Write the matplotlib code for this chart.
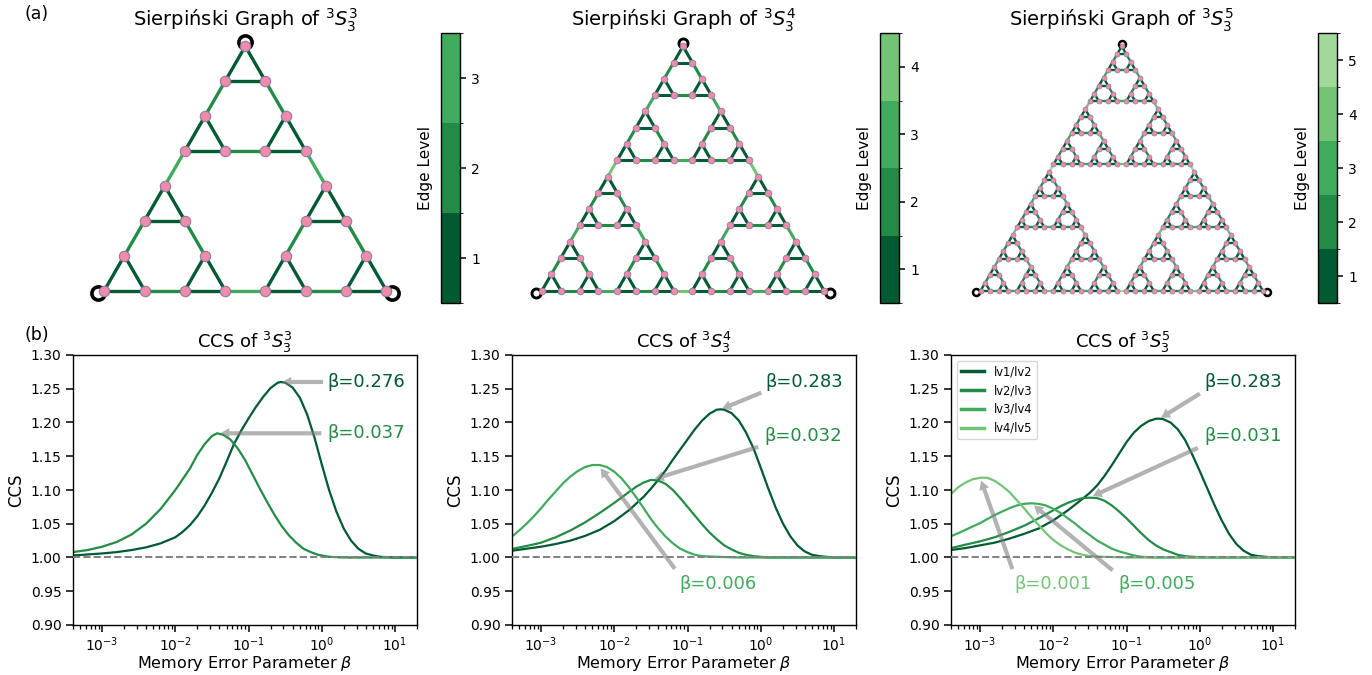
import numpy as np
import matplotlib
matplotlib.use("Agg")
import matplotlib.pyplot as plt
from matplotlib.collections import LineCollection
from matplotlib.colors import ListedColormap, BoundaryNorm
from matplotlib.cm import ScalarMappable
from matplotlib.transforms import offset_copy
from itertools import product

W, H = 1372, 675

level_colors = ["#005a32", "#238b45", "#41ab5d", "#74c476", "#a1d99b"]
node_face = "#f08ca8"
node_edge = "#8a7aa8"

graph_orders = [3, 4, 5]
curve_names = ["lv1/lv2", "lv2/lv3", "lv3/lv4", "lv4/lv5"]

# CCS curves: log10(beta) and CCS value
s3_lv12_logb = [-3.4, -3.2, -3.0, -2.8, -2.6, -2.4, -2.2, -2.0, -1.9, -1.8, -1.7, -1.6, -1.5, -1.4, -1.3,
                -1.2, -1.1, -1.0, -0.9, -0.8, -0.7, -0.6, -0.56, -0.5, -0.4, -0.3, -0.2, -0.1, 0.0, 0.1,
                0.2, 0.3, 0.4, 0.5, 0.6, 0.7, 0.8, 1.0, 1.3]
s3_lv12_ccs = [1.003, 1.0045, 1.006, 1.008, 1.011, 1.015, 1.021, 1.030, 1.038, 1.048, 1.061, 1.077, 1.096,
               1.117, 1.142, 1.168, 1.188, 1.206, 1.223, 1.238, 1.251, 1.259, 1.260, 1.259, 1.252, 1.237,
               1.212, 1.178, 1.138, 1.100, 1.068, 1.043, 1.025, 1.013, 1.006, 1.003, 1.001, 1.000, 1.000]
s3_lv23_logb = [-3.4, -3.2, -3.0, -2.8, -2.6, -2.4, -2.2, -2.0, -1.9, -1.8, -1.7, -1.6, -1.5, -1.43, -1.35,
                -1.25, -1.15, -1.05, -0.95, -0.85, -0.75, -0.65, -0.55, -0.45, -0.35, -0.25, -0.15, -0.05,
                0.1, 0.3, 1.3]
s3_lv23_ccs = [1.008, 1.011, 1.016, 1.023, 1.034, 1.050, 1.072, 1.100, 1.116, 1.132, 1.152, 1.168, 1.180,
               1.184, 1.182, 1.175, 1.162, 1.145, 1.124, 1.103, 1.083, 1.064, 1.047, 1.033, 1.022, 1.013,
               1.008, 1.004, 1.001, 1.000, 1.000]

s4_lv12_logb = [-3.4, -3.2, -3.0, -2.8, -2.6, -2.4, -2.2, -2.0, -1.8, -1.6, -1.5, -1.4, -1.3, -1.2, -1.1,
                -1.0, -0.9, -0.8, -0.7, -0.6, -0.55, -0.5, -0.4, -0.3, -0.2, -0.1, 0.0, 0.1, 0.2, 0.3,
                0.4, 0.5, 0.6, 0.7, 0.8, 1.0, 1.3]
s4_lv12_ccs = [1.010, 1.013, 1.016, 1.020, 1.025, 1.032, 1.041, 1.054, 1.070, 1.090, 1.102, 1.115, 1.129,
               1.145, 1.160, 1.175, 1.190, 1.203, 1.213, 1.219, 1.2195, 1.219, 1.214, 1.203, 1.185, 1.162,
               1.133, 1.103, 1.075, 1.051, 1.032, 1.018, 1.009, 1.004, 1.002, 1.000, 1.000]
s4_lv23_logb = [-3.4, -3.2, -3.0, -2.8, -2.6, -2.4, -2.2, -2.0, -1.9, -1.8, -1.7, -1.6, -1.5, -1.4, -1.3,
                -1.2, -1.1, -1.0, -0.9, -0.8, -0.7, -0.6, -0.5, -0.4, -0.3, -0.2, -0.1, 0.1, 1.3]
s4_lv23_ccs = [1.0126, 1.017, 1.022, 1.030, 1.040, 1.052, 1.066, 1.081, 1.089, 1.097, 1.105, 1.111, 1.115,
               1.114, 1.109, 1.100, 1.088, 1.075, 1.062, 1.049, 1.037, 1.027, 1.018, 1.012, 1.007, 1.004,
               1.002, 1.000, 1.000]
s4_lv34_logb = [-3.4, -3.3, -3.2, -3.1, -3.0, -2.9, -2.8, -2.7, -2.6, -2.5, -2.4, -2.3, -2.2, -2.1, -2.0,
                -1.9, -1.8, -1.7, -1.6, -1.5, -1.4, -1.3, -1.2, -1.1, -1.0, -0.9, -0.8, -0.6, -0.3, 1.3]
s4_lv34_ccs = [1.031, 1.040, 1.050, 1.061, 1.073, 1.086, 1.098, 1.110, 1.120, 1.128, 1.134, 1.137, 1.137,
               1.134, 1.127, 1.117, 1.104, 1.089, 1.073, 1.057, 1.043, 1.031, 1.021, 1.013, 1.008, 1.004,
               1.002, 1.001, 1.000, 1.000]

s5_lv12_logb = [-3.41, -3.2, -3.0, -2.8, -2.6, -2.4, -2.2, -2.0, -1.8, -1.6, -1.5, -1.4, -1.3, -1.2, -1.1,
                -1.0, -0.9, -0.8, -0.7, -0.6, -0.55, -0.5, -0.4, -0.3, -0.2, -0.1, 0.0, 0.1, 0.2, 0.3,
                0.4, 0.5, 0.6, 0.7, 0.8, 1.0, 1.3]
s5_lv12_ccs = [1.011, 1.014, 1.018, 1.022, 1.028, 1.035, 1.043, 1.055, 1.070, 1.087, 1.096, 1.107, 1.121,
               1.137, 1.154, 1.171, 1.185, 1.195, 1.202, 1.2055, 1.2057, 1.205, 1.200, 1.190, 1.174, 1.152,
               1.128, 1.103, 1.078, 1.055, 1.035, 1.020, 1.010, 1.004, 1.002, 1.000, 1.000]
s5_lv23_logb = [-3.41, -3.2, -3.0, -2.8, -2.6, -2.4, -2.2, -2.0, -1.9, -1.8, -1.7, -1.6, -1.5, -1.4, -1.3,
                -1.2, -1.1, -1.0, -0.9, -0.8, -0.7, -0.6, -0.5, -0.4, -0.3, -0.2, -0.1, 0.1, 1.3]
s5_lv23_ccs = [1.0136, 1.019, 1.024, 1.030, 1.038, 1.047, 1.058, 1.070, 1.076, 1.081, 1.085, 1.088, 1.0886,
               1.088, 1.084, 1.077, 1.068, 1.058, 1.047, 1.036, 1.026, 1.018, 1.012, 1.008, 1.004, 1.002,
               1.001, 1.000, 1.000]
s5_lv34_logb = [-3.41, -3.3, -3.2, -3.1, -3.0, -2.9, -2.8, -2.7, -2.6, -2.5, -2.4, -2.3, -2.2, -2.1, -2.0,
                -1.9, -1.8, -1.7, -1.6, -1.5, -1.4, -1.3, -1.2, -1.1, -1.0, -0.9, -0.8, -0.6, 1.3]
s5_lv34_ccs = [1.031, 1.036, 1.041, 1.046, 1.051, 1.057, 1.063, 1.068, 1.073, 1.077, 1.0795, 1.0803, 1.0795,
               1.077, 1.072, 1.066, 1.058, 1.050, 1.041, 1.033, 1.025, 1.019, 1.013, 1.009, 1.006, 1.003,
               1.001, 1.000, 1.000]
s5_lv45_logb = [-3.41, -3.35, -3.3, -3.2, -3.1, -3.0, -2.96, -2.9, -2.8, -2.7, -2.6, -2.5, -2.4, -2.3, -2.2,
                -2.1, -2.0, -1.9, -1.8, -1.7, -1.6, -1.5, -1.3, -1.0, 1.3]
s5_lv45_ccs = [1.0926, 1.099, 1.104, 1.111, 1.116, 1.118, 1.1183, 1.118, 1.1135, 1.106, 1.097, 1.085, 1.073,
               1.060, 1.048, 1.036, 1.026, 1.018, 1.012, 1.007, 1.004, 1.002, 1.001, 1.000, 1.000]

# peak labels: beta, ccs at the peak
s3_peak_beta = [0.276, 0.037]
s3_peak_ccs = [1.260, 1.184]
s4_peak_beta = [0.283, 0.032, 0.006]
s4_peak_ccs = [1.2195, 1.115, 1.137]
s5_peak_beta = [0.283, 0.031, 0.005, 0.001]
s5_peak_ccs = [1.2057, 1.0886, 1.0803, 1.1183]


def sierpinski(n):
    corners = np.array([[0.0, 0.0], [1.0, 0.0], [0.5, np.sqrt(3) / 2]])
    verts = list(product(range(3), repeat=n))
    pos = {v: sum(corners[d] * 2 ** (n - 1 - k) for k, d in enumerate(v)) for v in verts}
    edges = []
    for lev in range(1, n + 1):
        for prefix in product(range(3), repeat=n - lev):
            for i in range(3):
                for j in range(i + 1, 3):
                    u = prefix + (i,) + (j,) * (lev - 1)
                    w = prefix + (j,) + (i,) * (lev - 1)
                    edges.append((u, w, lev))
    return pos, edges


def px_axes(fig, left, top, width, height):
    return fig.add_axes([left / W, 1 - (top + height) / H, width / W, height / H])


fig = plt.figure(figsize=(W / 100, H / 100), dpi=100)

# ---- (a) Sierpinski graphs
tri_x0 = [104.3, 542.0, 980.7]
tri_w = 282.0
tri_base = 290.5
cbar_left = [441, 880, 1318]
node_ms = [7.5, 4.8, 3.6]
node_mew = [0.8, 0.6, 0.5]
edge_lw = [2.4, 2.2, 1.7]
ring_ms = [9.5, 6.5, 5.0]
ring_mew = [2.6, 2.1, 1.8]
ring_off = [[(0, 4.3), (-6, -2), (6, -2)], [(0, 3.5), (-6, -2), (6, -2)], [(0.6, 2.3), (-4.7, -1.4), (4.7, -1.4)]]

for gi, n in enumerate(graph_orders):
    pos, edges = sierpinski(n)
    L = 2 ** n - 1
    ppu = tri_w / L
    ax = px_axes(fig, tri_x0[gi] - 45, 28, tri_w + 90, 280)
    ax.set_xlim(-45 / ppu, (tri_w + 45) / ppu)
    ax.set_ylim(-(308 - tri_base) / ppu, (tri_base - 28) / ppu)
    ax.axis("off")

    cmap = ListedColormap(level_colors[:n])
    segs = [[pos[u], pos[w]] for u, w, lev in edges]
    cols = [level_colors[lev - 1] for u, w, lev in edges]
    ax.add_collection(LineCollection(segs, colors=cols, linewidths=edge_lw[gi], zorder=1, capstyle="round"))

    # extreme vertices, marked with a black ring
    extremes = [(2,) * n, (0,) * n, (1,) * n]
    for k, v in enumerate(extremes):
        tr = offset_copy(ax.transData, fig=fig, x=ring_off[gi][k][0], y=ring_off[gi][k][1], units="dots")
        ax.plot([pos[v][0]], [pos[v][1]], "o", ms=ring_ms[gi], mfc="none", mec="black",
                mew=ring_mew[gi], transform=tr, zorder=2)

    xy = np.array(list(pos.values()))
    ax.plot(xy[:, 0], xy[:, 1], "o", ls="none", ms=node_ms[gi], mfc=node_face, mec=node_edge,
            mew=node_mew[gi], zorder=3)

    fig.text((tri_x0[gi] + tri_w / 2) / W, 1 - 26 / H,
             "Sierpiński Graph of $^{3}S_{3}^{%d}$" % n, ha="center", va="baseline", fontsize=14)

    cax = px_axes(fig, cbar_left[gi], 33, 19, 270)
    norm = BoundaryNorm(np.arange(0.5, n + 1.5), n)
    cb = fig.colorbar(ScalarMappable(norm=norm, cmap=cmap), cax=cax, ticks=range(1, n + 1))
    cb.ax.tick_params(labelsize=10, length=4.5, width=1.1)
    cb.outline.set_linewidth(1.0)
    cb.set_label("Edge Level", fontsize=11, labelpad=6)
    cb.ax.yaxis.set_label_position("left")

fig.text(37 / W, 1 - 14 / H, "(a)", ha="center", va="center", fontsize=12.5)
fig.text(37 / W, 1 - 335 / H, "(b)", ha="center", va="center", fontsize=12.5)

# ---- (b) CCS curves
panels = [
    ([(s3_lv12_logb, s3_lv12_ccs), (s3_lv23_logb, s3_lv23_ccs)], s3_peak_beta, s3_peak_ccs,
     [(4.05, 1.26), (4.05, 1.184)]),
    ([(s4_lv12_logb, s4_lv12_ccs), (s4_lv23_logb, s4_lv23_ccs), (s4_lv34_logb, s4_lv34_ccs)],
     s4_peak_beta, s4_peak_ccs, [(3.92, 1.26), (3.8, 1.18), (0.26, 0.961)]),
    ([(s5_lv12_logb, s5_lv12_ccs), (s5_lv23_logb, s5_lv23_ccs), (s5_lv34_logb, s5_lv34_ccs),
      (s5_lv45_logb, s5_lv45_ccs)], s5_peak_beta, s5_peak_ccs,
     [(3.88, 1.26), (3.88, 1.18), (0.258, 0.961), (0.0099, 0.961)]),
]
ax_left = [73, 512, 951]

for pi, (curves, pb, pc, tpos) in enumerate(panels):
    ax = px_axes(fig, ax_left[pi], 355, 344, 270)
    for ci, (lb, cc) in enumerate(curves):
        ax.plot(10 ** np.array(lb), cc, color=level_colors[ci], lw=1.6, label=curve_names[ci])
    ax.axhline(1.0, color="gray", ls="--", lw=1.4, zorder=5)
    for ci in range(len(curves)):
        ax.annotate("β=%.3f" % pb[ci], xy=(pb[ci], pc[ci]), xytext=tpos[ci], ha="center", va="center",
                    color=level_colors[ci], fontsize=13,
                    arrowprops=dict(facecolor="gray", edgecolor="none", alpha=0.6, width=3,
                                    headwidth=7.5, headlength=6.5, shrink=0.03))
    ax.set_xscale("log")
    ax.set_xlim(4e-4, 20)
    ax.set_ylim(0.90, 1.30)
    ax.set_yticks(np.arange(0.90, 1.301, 0.05))
    ax.yaxis.set_major_formatter(matplotlib.ticker.FormatStrFormatter("%.2f"))
    ax.tick_params(labelsize=10, length=4.8, width=1.1)
    ax.tick_params(axis="x", pad=2.5)
    ax.tick_params(which="minor", length=2.8, width=0.9)
    for s in ax.spines.values():
        s.set_linewidth(1.0)
    ax.set_xlabel(r"Memory Error Parameter $\beta$", fontsize=11.5, labelpad=0.5)
    ax.set_ylabel("CCS", fontsize=12)
    ax.set_title("CCS of $^{3}S_{3}^{%d}$" % graph_orders[pi], fontsize=13, pad=5)
    if pi == 2:
        leg = ax.legend(loc="upper left", fontsize=8.3)
        for ln in leg.get_lines():
            ln.set_linewidth(2.5)

fig.savefig("out.png", dpi=100)
